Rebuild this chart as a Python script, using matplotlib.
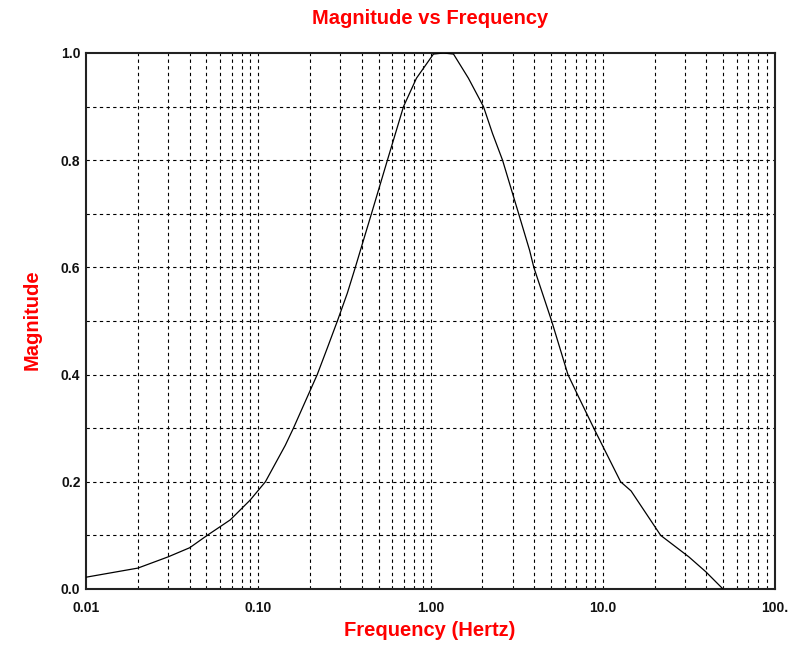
import matplotlib
matplotlib.use("Agg")
import matplotlib.pyplot as plt
from matplotlib.ticker import FixedLocator, NullFormatter

# Data
freq_hz = [0.010, 0.020, 0.030, 0.040, 0.0505, 0.0688, 0.0898, 0.110, 0.1435,
           0.160, 0.220, 0.252, 0.288, 0.329, 0.366, 0.392, 0.454, 0.562, 0.626,
           0.697, 0.829, 1.04, 1.19, 1.36, 1.66, 2.03, 2.29, 2.62, 3.25, 3.76,
           3.98, 5.05, 6.28, 7.25, 8.87, 12.7, 14.6, 21.7, 31.6, 39.7, 49.9]
magnitude = [0.022, 0.039, 0.060, 0.077, 0.100, 0.129, 0.166, 0.200, 0.268,
             0.300, 0.400, 0.450, 0.500, 0.552, 0.600, 0.632, 0.700, 0.800, 0.850,
             0.900, 0.953, 0.998, 1.000, 0.998, 0.953, 0.900, 0.850, 0.800, 0.700, 0.632,
             0.600, 0.500, 0.400, 0.358, 0.300, 0.200, 0.183, 0.100, 0.060, 0.032, 0.000]

x_major = [0.01, 0.1, 1.0, 10.0, 100.0]
x_major_labels = ["0.01", "0.10", "1.00", "10.0", "100."]
y_major = [0.0, 0.2, 0.4, 0.6, 0.8, 1.0]
y_major_labels = ["0.0", "0.2", "0.4", "0.6", "0.8", "1.0"]

title = "Magnitude vs Frequency"
xlabel = "Frequency (Hertz)"
ylabel = "Magnitude"

plt.rcParams['font.family'] = ['Liberation Sans', 'DejaVu Sans']

fig = plt.figure(figsize=(7.88, 6.46), dpi=100)
ax = fig.add_axes([86/788, 1 - 589/646, (775-86)/788, (589-53)/646])

ax.set_xscale('log')
ax.set_xlim(0.01, 100)
ax.set_ylim(0, 1.0)

# grid lines: every 1..9 per decade vertically, every 0.1 horizontally
vgrid = [m * 10.0**e for e in range(-2, 2) for m in range(1, 10)] + [100.0]
hgrid = [i / 10 for i in range(0, 11)]
dash = (0, (3.0, 3.0))
for v in vgrid:
    if 0.01 < v < 100:
        ax.axvline(v, color='black', lw=0.8, ls=dash, zorder=1)
for h in hgrid:
    if 0 < h < 1.0:
        ax.axhline(h, color='black', lw=0.8, ls=dash, zorder=1)

ax.plot(freq_hz, magnitude, color='black', lw=0.9, zorder=3, clip_on=True)

ax.xaxis.set_major_locator(FixedLocator(x_major))
ax.set_xticklabels(x_major_labels)
ax.xaxis.set_minor_locator(FixedLocator([]))
ax.xaxis.set_minor_formatter(NullFormatter())
ax.tick_params(axis='x', which='both', length=0, pad=9)
ax.yaxis.set_major_locator(FixedLocator(y_major))
ax.set_yticklabels(y_major_labels)
ax.tick_params(axis='y', which='both', length=0, pad=4)

for lab in ax.get_xticklabels() + ax.get_yticklabels():
    lab.set_fontweight('bold')
    lab.set_fontsize(10)
    lab.set_color('#111111')

for s in ax.spines.values():
    s.set_linewidth(1.5)
    s.set_color('#222222')

fig.text(430/788, 1 - 18/646, title, color='red', fontsize=14.5, fontweight='bold',
         ha='center', va='center')
fig.text(430/788, 1 - 631/646, xlabel, color='red', fontsize=14.5, fontweight='bold',
         ha='center', va='center')
fig.text(32/788, 1 - 320/646, ylabel, color='red', fontsize=14.5, fontweight='bold',
         ha='center', va='center', rotation=90)

fig.savefig('out.png', dpi=100)
